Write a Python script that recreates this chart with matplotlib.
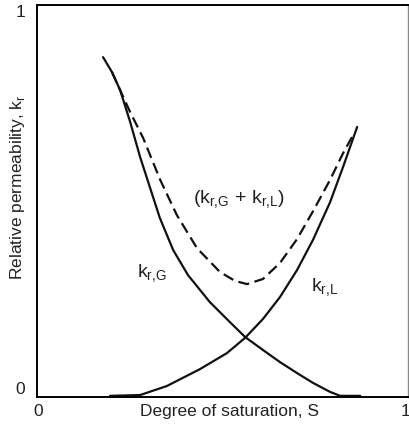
import matplotlib
matplotlib.use("Agg")
import matplotlib.pyplot as plt

# Data
s_gas = [0.178, 0.202, 0.224, 0.251, 0.278, 0.305, 0.331, 0.367, 0.407, 0.466,
         0.520, 0.561, 0.609, 0.655, 0.701, 0.744, 0.790, 0.817, 0.871]
kr_gas = [0.867, 0.829, 0.783, 0.702, 0.612, 0.533, 0.457, 0.375, 0.311, 0.242,
          0.191, 0.153, 0.120, 0.089, 0.061, 0.036, 0.013, 0.003, 0.003]

s_liq = [0.197, 0.278, 0.350, 0.439, 0.512, 0.561, 0.609, 0.655, 0.701, 0.744,
         0.790, 0.825, 0.863]
kr_liq = [0.003, 0.005, 0.028, 0.071, 0.112, 0.151, 0.199, 0.255, 0.324, 0.401,
          0.497, 0.587, 0.689]

s_sum = [0.202, 0.224, 0.251, 0.286, 0.332, 0.377, 0.431, 0.493, 0.534, 0.566,
         0.609, 0.655, 0.701, 0.744, 0.790, 0.825, 0.849]
kr_sum = [0.829, 0.783, 0.727, 0.661, 0.554, 0.464, 0.380, 0.319, 0.296, 0.288,
          0.301, 0.342, 0.403, 0.474, 0.554, 0.622, 0.663]

plt.rcParams['font.family'] = ['Liberation Sans', 'DejaVu Sans']

fig = plt.figure(figsize=(4.09, 4.26), dpi=100)
ax = fig.add_axes([37/409, 29/426, 371/409, 392/426])
ax.set_xlim(0, 1)
ax.set_ylim(0, 1)

ax.plot(s_gas, kr_gas, color='#111111', lw=1.6, solid_capstyle='round', solid_joinstyle='round')
ax.plot(s_liq, kr_liq, color='#111111', lw=1.6, solid_capstyle='round', solid_joinstyle='round')
ax.plot(s_sum, kr_sum, color='#111111', lw=1.6, dashes=(5, 2.5))

for side in ['left', 'top', 'bottom']:
    ax.spines[side].set_color('black')
    ax.spines[side].set_linewidth(1.4)
ax.spines['right'].set_color('#888888')
ax.spines['right'].set_linewidth(1.0)

ax.set_xticks([])
ax.set_yticks([])

fs = 12.5
col = '#222222'
ax.text(-0.045, 0.982, '1', transform=ax.transAxes, ha='center', va='center', fontsize=fs, color=col)
ax.text(-0.045, 0.018, '0', transform=ax.transAxes, ha='center', va='center', fontsize=fs, color=col)
ax.text(0.003, -0.036, '0', transform=ax.transAxes, ha='center', va='center', fontsize=fs, color=col)
ax.text(0.992, -0.036, '1', transform=ax.transAxes, ha='center', va='center', fontsize=fs, color=col)
ax.text(0.52, -0.036, 'Degree of saturation, S', transform=ax.transAxes,
        ha='center', va='center', fontsize=fs, color=col)
ax.text(-0.053, 0.536, r'Relative permeability, k$_\mathregular{r}$', transform=ax.transAxes,
        ha='center', va='center', rotation=90, fontsize=fs, color=col)

ax.text(0.545, 0.503, r'(k$_\mathregular{r{,}G}$ + k$_\mathregular{r{,}L}$)', ha='center', va='center',
        fontsize=14, color=col)
ax.text(0.31, 0.315, r'k$_\mathregular{r{,}G}$', ha='center', va='center', fontsize=14, color=col)
ax.text(0.775, 0.279, r'k$_\mathregular{r{,}L}$', ha='center', va='center', fontsize=14, color=col)

fig.savefig('out.png', dpi=100)
